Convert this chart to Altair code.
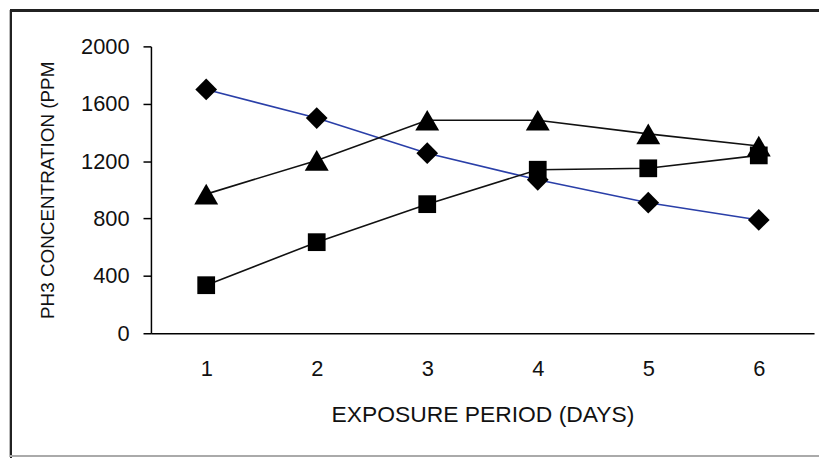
import altair as alt
import pandas as pd

days = [1, 2, 3, 4, 5, 6]
series_names = ["Diamond", "Square", "Triangle"]
diamond_vals = [1700, 1500, 1255, 1070, 910, 790]
square_vals = [335, 635, 900, 1140, 1150, 1240]
triangle_vals = [970, 1205, 1485, 1485, 1390, 1305]
y_ticks = [0, 400, 800, 1200, 1600, 2000]

rows = []
for name, vals in zip(series_names, [diamond_vals, square_vals, triangle_vals]):
    for d, v in zip(days, vals):
        rows.append({"series": name, "day": d, "value": v})
df = pd.DataFrame(rows)

FONT = "Liberation Sans"
W, H = 668, 289

x_enc = alt.X(
    "day:O",
    scale=alt.Scale(type="point", padding=0.5),
    axis=alt.Axis(
        title="EXPOSURE PERIOD (DAYS)",
        labelAngle=0,
        ticks=False,
        tickSize=0,
        labelPadding=26,
        labelFontSize=22,
        labelFont=FONT,
        labelColor="#111",
        domainColor="#000",
        domainWidth=1.5,
        titleFont=FONT,
        titleFontSize=23,
        titleFontWeight="normal",
        titleColor="#111",
        titleY=89,
        titleBaseline="alphabetic",
        grid=False,
    ),
)
y_enc = alt.Y(
    "value:Q",
    scale=alt.Scale(domain=[0, 2000], nice=False),
    axis=alt.Axis(
        title="PH3 CONCENTRATION (PPM",
        values=y_ticks,
        format="d",
        tickSize=8,
        tickColor="#000",
        tickWidth=1.5,
        labelPadding=14,
        labelFontSize=22,
        labelFont=FONT,
        labelColor="#111",
        domainColor="#000",
        domainWidth=1.5,
        titleFont=FONT,
        titleFontSize=19,
        titleFontWeight="normal",
        titleColor="#111",
        titleAngle=270,
        titleX=-98,
        titleY=H / 2,
        titleAlign="center",
        titleBaseline="alphabetic",
        grid=False,
    ),
)

lines = alt.Chart(df).mark_line(strokeWidth=1.6).encode(
    x=x_enc,
    y=y_enc,
    color=alt.Color(
        "series:N",
        scale=alt.Scale(domain=series_names, range=["#2a3fa8", "#111111", "#111111"]),
        legend=None,
    ),
    detail="series:N",
)

marker_shapes = ["diamond", "square", "triangle-up"]
marker_sizes = [480, 320, 580]

point_layers = []
for name, shp, sz in zip(series_names, marker_shapes, marker_sizes):
    point_layers.append(
        alt.Chart(df)
        .transform_filter(alt.datum.series == name)
        .mark_point(filled=True, opacity=1, color="#000", shape=shp, size=sz)
        .encode(x=alt.X("day:O"), y=alt.Y("value:Q"))
    )

frame_top = alt.Chart(df).mark_rule(color="#222", strokeWidth=2).encode(
    x=alt.value(-142), x2=alt.value(680), y=alt.value(-36)
)
frame_left = alt.Chart(df).mark_rule(color="#222", strokeWidth=2).encode(
    x=alt.value(-141), y=alt.value(-36), y2=alt.value(414)
)
frame_bottom = alt.Chart(df).mark_rule(color="#aaa", strokeWidth=1.5).encode(
    x=alt.value(-142), x2=alt.value(680), y=alt.value(413)
)

chart = (
    alt.layer(frame_top, frame_left, frame_bottom, lines, *point_layers)
    .properties(
        width=W,
        height=H,
        autosize=alt.AutoSizeParams(type="none"),
        padding={"left": 144, "top": 37, "right": 5, "bottom": 124},
        background="white",
    )
    .configure_view(stroke=None)
)

chart.save("out.html", embed_options={"renderer": "svg", "actions": False})
